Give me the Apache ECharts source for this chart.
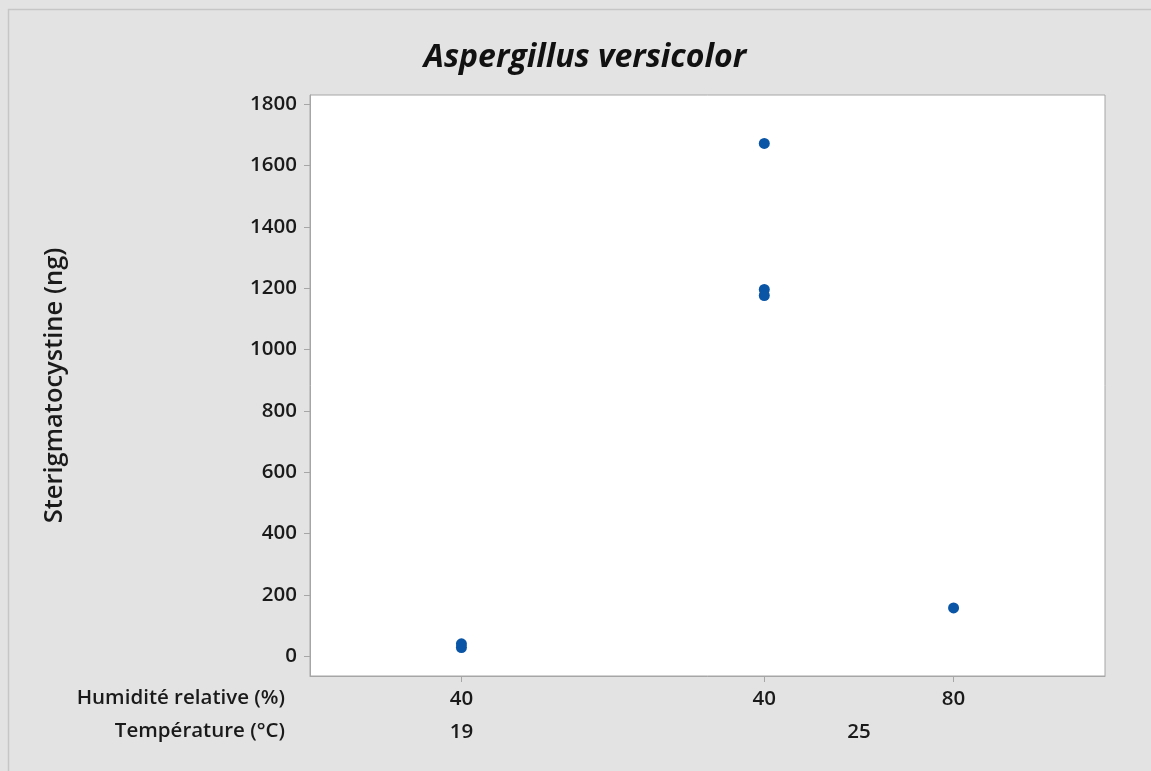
<!DOCTYPE html>
<html>
<head>
<meta charset="utf-8">
<script src="https://cdn.jsdelivr.net/npm/echarts@6/dist/echarts.min.js"></script>
<style>
  html, body { margin: 0; padding: 0; background: #e3e3e3; }
  #chart { width: 1151px; height: 771px; }
</style>
</head>
<body>
<div id="chart"></div>
<script>
// Groups: relative humidity / temperature, placed on a numeric x slot
const humidityLabels = ['40', '40', '80'];
const temperatureLabels = ['19', '25'];
const groupSlots = [1, 3, 4.25];
const temperatureSlots = [1, 3.625];

// Sterigmatocystine (ng) measured in each group
const group19_40 = [40, 28];
const group25_40 = [1672, 1196, 1176];
const group25_80 = [157];
const groupValues = [group19_40, group25_40, group25_80];

const yTicks = [0, 200, 400, 600, 800, 1000, 1200, 1400, 1600, 1800];

const points = [];
groupValues.forEach((vals, i) => vals.forEach(v => points.push([groupSlots[i], v])));

const font = '"Open Sans", "Noto Sans", sans-serif';
const textColor = '#1a1a1a';
const axisGray = '#a6a6a6';
const tickFont = { fontFamily: font, fontSize: 20.5, fontWeight: 600, color: textColor };

const chart = echarts.init(document.getElementById('chart'));
chart.setOption({
  backgroundColor: '#e3e3e3',
  animation: false,
  title: {
    text: 'Aspergillus versicolor',
    left: 580, top: 37, textAlign: 'center',
    textStyle: { fontFamily: font, fontSize: 32, fontWeight: 'bold', fontStyle: 'italic', color: '#111' }
  },
  grid: { left: 310, top: 95, right: 46, bottom: 95, show: true, backgroundColor: '#ffffff', borderColor: axisGray, borderWidth: 1 },
  xAxis: [{
    type: 'value', min: 0, max: 5.25, position: 'bottom',
    splitLine: { show: false },
    axisLine: { show: true, onZero: false, lineStyle: { color: axisGray } },
    axisTick: { show: true, length: 6, lineStyle: { color: axisGray }, customValues: groupSlots },
    axisLabel: Object.assign({
      customValues: groupSlots, margin: 13,
      formatter: (v) => humidityLabels[groupSlots.indexOf(v)] ?? ''
    }, tickFont)
  }, {
    type: 'value', min: 0, max: 5.25, position: 'bottom', offset: 33,
    splitLine: { show: false },
    axisLine: { show: false, onZero: false }, axisTick: { show: false },
    axisLabel: Object.assign({
      customValues: temperatureSlots, margin: 13,
      formatter: (v) => temperatureLabels[temperatureSlots.indexOf(v)] ?? ''
    }, tickFont)
  }],
  yAxis: {
    type: 'value', min: -65, max: 1830,
    name: 'Sterigmatocystine (ng)', nameLocation: 'middle', nameGap: 242, nameRotate: 90,
    nameTextStyle: { fontFamily: font, fontSize: 25.5, fontWeight: 600, color: textColor },
    splitLine: { show: false },
    axisLine: { show: true, onZero: false, lineStyle: { color: axisGray } },
    axisTick: { show: true, length: 6, lineStyle: { color: axisGray }, customValues: yTicks },
    axisLabel: Object.assign({ customValues: yTicks, margin: 13, formatter: (v) => String(v) }, tickFont)
  },
  graphic: [
    { type: 'rect', shape: { x: 8.5, y: 9.5, width: 1200, height: 800 }, style: { fill: 'none', stroke: '#c6c6c6', lineWidth: 1.5 }, silent: true, z: -1 },
    { type: 'text', right: 866, top: 688, style: { text: 'Humidité relative (%)', font: '600 20.5px ' + font, fill: textColor, textAlign: 'right' } },
    { type: 'text', right: 866, top: 721, style: { text: 'Température (°C)', font: '600 20.5px ' + font, fill: textColor, textAlign: 'right' } }
  ],
  series: [{
    type: 'scatter', xAxisIndex: 0, data: points,
    symbol: 'circle', symbolSize: 11,
    itemStyle: { color: '#0a55a6', opacity: 1 }
  }]
});
</script>
</body>
</html>
